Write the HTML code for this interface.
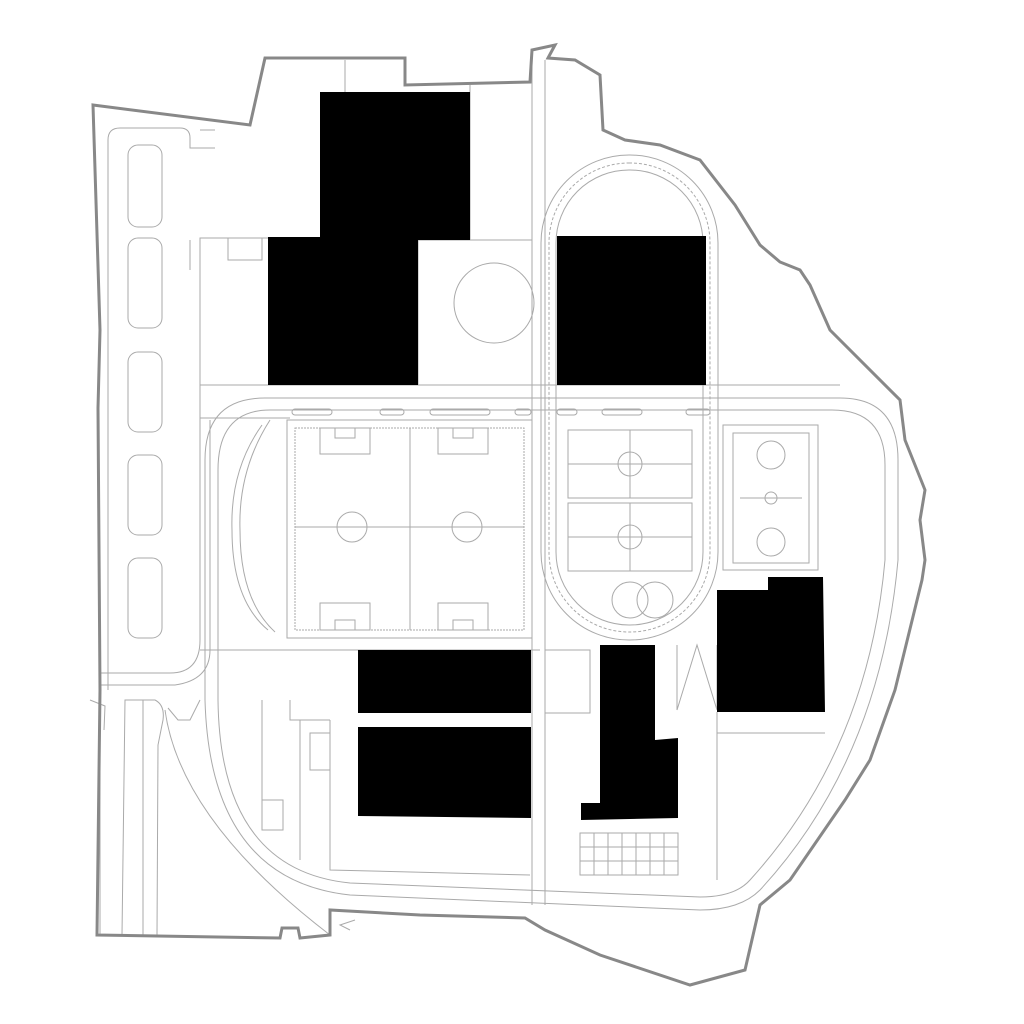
<!DOCTYPE html>
<html><head><style>html,body{margin:0;padding:0;background:#fff}svg{display:block}</style></head>
<body>
<svg width="1024" height="1024" viewBox="0 0 1024 1024" xmlns="http://www.w3.org/2000/svg">
<rect width="1024" height="1024" fill="#fff"/>
<g fill="none" stroke="#aaa" stroke-width="1">
<!-- parking column -->
<rect x="128" y="145" width="34" height="82" rx="10"/>
<rect x="128" y="238" width="34" height="90" rx="10"/>
<rect x="128" y="352" width="34" height="80" rx="10"/>
<rect x="128" y="455" width="34" height="80" rx="10"/>
<rect x="128" y="558" width="34" height="80" rx="10"/>
<path d="M108 690 L108 140 Q108 128 120 128 L180 128 Q190 128 190 138 L190 148 L215 148"/>
<path d="M200 130 L215 130"/>
<path d="M100 673 L170 673 Q200 673 200 640 L200 238 L268 238"/>
<path d="M100 685 L175 685 Q210 680 210 650 L210 420"/>
<path d="M190 240 L190 270"/>
<rect x="228" y="238" width="34" height="22"/>
<path d="M100 700 L100 935"/>
<path d="M122 935 L125 700 Q125 700 140 700 L155 700 Q165 705 163 720 L158 745 L157 935"/>
<path d="M143 935 L143 700"/>
<path d="M168 708 L178 720 L190 720 L200 700"/>
<path d="M165 710 Q180 820 330 935"/>
<path d="M90 700 L105 706 L104 730"/>
<!-- big ring road -->
<path d="M265 398 L840 398 Q898 398 898 460 L898 560 Q880 760 760 890 Q740 910 700 910 L350 895 Q210 880 205 700 L205 460 Q205 398 265 398 Z"/>
<path d="M270 410 L832 410 Q885 410 885 465 L885 560 Q868 750 750 880 Q735 897 700 897 L350 883 Q220 870 218 700 L218 470 Q218 410 270 410 Z"/>
<path d="M200 385 L840 385"/><path d="M200 418 L290 418"/>
<rect x="292" y="409" width="40" height="6" rx="3"/><rect x="380" y="409" width="24" height="6" rx="3"/>
<rect x="430" y="409" width="60" height="6" rx="3"/><rect x="515" y="409" width="16" height="6" rx="3"/>
<rect x="557" y="409" width="20" height="6" rx="3"/><rect x="602" y="409" width="40" height="6" rx="3"/>
<rect x="686" y="409" width="24" height="6" rx="3"/>
<!-- vertical road -->
<path d="M532 60 L532 905 M545 60 L545 905"/>
<path d="M470 85 L470 240 M345 60 L345 92"/>
<!-- circle plaza -->
<rect x="418" y="240" width="114" height="145"/>
<circle cx="494" cy="303" r="40"/>
<!-- running track -->
<rect x="541" y="155" width="177" height="485" rx="88"/>
<rect x="549" y="163" width="161" height="469" rx="80" stroke-dasharray="3 2"/>
<rect x="556" y="170" width="147" height="455" rx="73"/>
<circle cx="630" cy="600" r="18"/><circle cx="655" cy="600" r="18"/>
<!-- soccer fields -->
<rect x="287" y="420" width="245" height="218"/>
<rect x="295" y="428" width="229" height="202" stroke-dasharray="2 1"/>
<path d="M410 428 L410 630 M295 527 L524 527"/>
<circle cx="352" cy="527" r="15"/><circle cx="467" cy="527" r="15"/>
<rect x="320" y="428" width="50" height="26"/><rect x="335" y="428" width="20" height="10"/>
<rect x="438" y="428" width="50" height="26"/><rect x="453" y="428" width="20" height="10"/>
<rect x="320" y="603" width="50" height="27"/><rect x="335" y="620" width="20" height="10"/>
<rect x="438" y="603" width="50" height="27"/><rect x="453" y="620" width="20" height="10"/>
<path d="M270 420 Q238 470 240 530 Q240 600 275 632"/>
<path d="M262 425 Q230 470 232 530 Q232 600 268 630"/>
<!-- basketball in track -->
<rect x="568" y="430" width="124" height="68"/><path d="M630 430 L630 498 M568 464 L692 464"/><circle cx="630" cy="464" r="12"/>
<rect x="568" y="503" width="124" height="68"/><path d="M630 503 L630 571 M568 537 L692 537"/><circle cx="630" cy="537" r="12"/>
<!-- right basketball -->
<rect x="723" y="425" width="95" height="145"/><rect x="733" y="433" width="76" height="130"/>
<path d="M740 498 L802 498"/><circle cx="771" cy="498" r="6"/>
<circle cx="771" cy="455" r="14"/><circle cx="771" cy="542" r="14"/>
<!-- south misc -->
<path d="M200 650 L540 650 M330 720 L290 720 L290 700 M330 720 L330 870 L530 875 M545 650 L590 650 L590 713 L545 713"/>
<path d="M262 700 L262 800 L283 800 L283 830 L262 830 L262 712 M300 720 L300 860 M545 818 L545 905"/>
<path d="M310 733 L330 733 L330 770 L310 770 Z"/>
<path d="M677 645 L677 710 L697 645 L717 710 L717 645"/>
<path d="M717 712 L717 880 M717 733 L825 733"/>
<rect x="580" y="833" width="98" height="42"/>
<path d="M580 847 L678 847 M580 861 L678 861 M594 833 L594 875 M608 833 L608 875 M622 833 L622 875 M636 833 L636 875 M650 833 L650 875 M664 833 L664 875"/>
<path d="M355 920 L340 925 L350 930"/>
</g>
<!-- boundary -->
<path d="M93 105 L250 125 L265 58 L405 58 L405 85 L530 82 L532 50 L555 45 L548 58 L575 60 L600 75 L603 130 L625 140 L660 145 L700 160 L735 205 L760 245 L780 262 L800 270 L810 285 L830 330 L900 400 L905 440 L925 490 L920 520 L925 560 L922 580 L895 690 L870 760 L845 800 L790 880 L760 905 L745 970 L690 985 L600 955 L545 930 L525 918 L420 915 L330 910 L330 935 L300 938 L298 928 L282 928 L280 938 L97 935 L100 690 L98 408 L100 330 Z" fill="none" stroke="#888" stroke-width="3"/>
<!-- buildings -->
<g fill="#000">
<path d="M320 92 L470 92 L470 240 L418 240 L418 385 L268 385 L268 237 L320 237 Z"/>
<rect x="557" y="236" width="149" height="149"/>
<rect x="358" y="650" width="173" height="63"/>
<path d="M358 727 L531 727 L531 818 L358 816 Z"/>
<path d="M600 645 L655 645 L655 740 L678 738 L678 818 L581 820 L581 803 L600 803 Z"/>
<path d="M717 590 L768 590 L768 577 L823 577 L825 712 L717 712 Z"/>
</g>
</svg>
</body></html>
